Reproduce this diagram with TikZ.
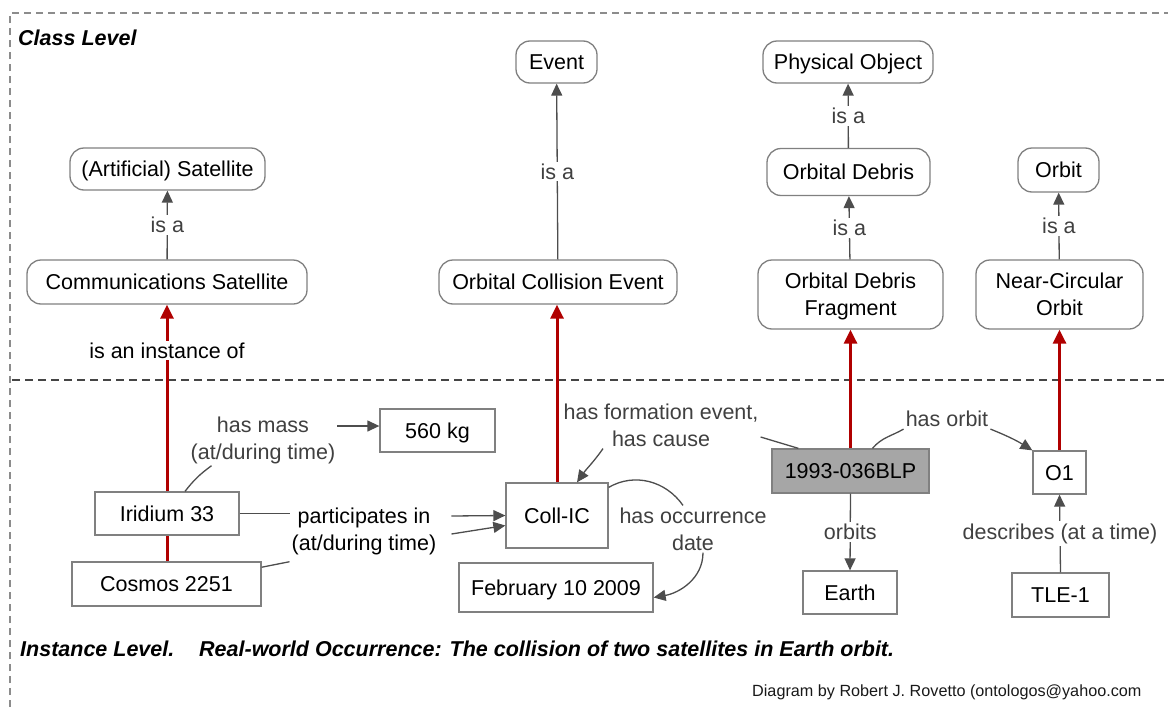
\documentclass[tikz,border=0pt]{standalone}
\usepackage{fontspec}
\setmainfont{Liberation Sans}
\usetikzlibrary{arrows.meta}
\definecolor{nodegray}{HTML}{808080}
\definecolor{edgegray}{HTML}{4D4D4D}
\definecolor{labelgray}{HTML}{404040}
\definecolor{myred}{HTML}{B00000}
\definecolor{blfill}{HTML}{A6A6A6}
\definecolor{framegray}{HTML}{8C8C8C}
\definecolor{sepgray}{HTML}{454545}
\tikzset{
  onel/.style={text height=15pt, text depth=0pt},
  twol/.style={text height=42pt, text depth=0pt},
  cls/.style={draw=nodegray, line width=1.3pt, rounded corners=14pt, fill=white, align=center, inner sep=0pt},
  inst/.style={draw=nodegray, line width=1.3pt, fill=white, align=center, inner sep=0pt, onel},
  lbl/.style={text=labelgray, fill=white, inner sep=2pt, align=center},
  conn/.style={draw=edgegray, line width=1.3pt},
  arr/.style={conn, -{Triangle[length=12pt,width=11pt]}},
  redline/.style={draw=myred, line width=3pt},
  redarr/.style={redline, -{Triangle[length=14pt,width=13pt]}},
  title/.style={anchor=base west, inner sep=0pt, font=\bfseries\itshape\fontsize{21.5}{27}\selectfont},
}
\begin{document}
\begin{tikzpicture}[x=1pt, y=-1pt, font=\fontsize{21.5}{27}\selectfont]
\useasboundingbox (0,0) rectangle (1168,707);
% frame and separator
\draw[framegray, line width=1.2pt, dash pattern=on 7pt off 5pt] (10,707) -- (10,13) -- (1168,13);
\draw[sepgray, line width=2.5pt, dash pattern=on 8pt off 5pt] (12,380) -- (1168,380);

% class level nodes
\node[cls, onel, minimum width=195pt, minimum height=42pt] (art) at (167.5,169) {(Artificial) Satellite};
\node[cls, onel, minimum width=280pt, minimum height=44pt] (comm) at (167,282) {Communications Satellite};
\node[cls, onel, minimum width=81pt, minimum height=42pt] (event) at (556.5,62) {Event};
\node[cls, onel, minimum width=238pt, minimum height=44pt] (oce) at (558,282) {Orbital Collision Event};
\node[cls, onel, minimum width=170pt, minimum height=42pt] (po) at (848,62) {Physical Object};
\node[cls, onel, minimum width=163pt, minimum height=47pt] (od) at (848.5,172) {Orbital Debris};
\node[cls, twol, minimum width=185pt, minimum height=69pt] (odf) at (850.5,294.5) {Orbital Debris\\Fragment};
\node[cls, onel, minimum width=81pt, minimum height=44pt] (orbit) at (1058.5,170) {Orbit};
\node[cls, twol, minimum width=167pt, minimum height=69pt] (nco) at (1059.5,294.5) {Near-Circular\\Orbit};

% instance level nodes
\node[inst, minimum width=144pt, minimum height=43pt] (iri) at (167,513.5) {Iridium 33};
\node[inst, minimum width=189pt, minimum height=44pt] (cos) at (166.5,584) {Cosmos 2251};
\node[inst, minimum width=115pt, minimum height=43pt] (kg) at (437.5,430.5) {560 kg};
\node[inst, minimum width=102pt, minimum height=65pt] (coll) at (557,515.5) {Coll-IC};
\node[inst, minimum width=194pt, minimum height=49pt] (feb) at (556,587.5) {February 10 2009};
\node[inst, fill=blfill, minimum width=157pt, minimum height=44pt] (bl) at (850.5,471) {1993-036BLP};
\node[inst, minimum width=53pt, minimum height=43pt] (o1) at (1059.5,472.5) {O1};
\node[inst, minimum width=94pt, minimum height=43pt] (earth) at (850,592.5) {Earth};
\node[inst, minimum width=97pt, minimum height=44pt] (tle) at (1060.5,595) {TLE-1};

% free-standing link labels
\node[lbl] (lmass) at (263,440) {has mass\\(at/during time)};
\node[lbl, text=black] (lpart) at (364,531) {participates in\\(at/during time)};
\node[lbl] (lform) at (661,425) {has formation event,\\has cause};
\node[lbl] (locc) at (693,529) {has occurrence\\date};
\node[lbl] (lorbit) at (947,419) {has orbit};

% is-a links
\draw[arr] (comm) -- node[lbl]{is a} (art);
\draw[arr] (oce) -- node[lbl]{is a} (event);
\draw[arr] (od) -- node[lbl]{is a} (po);
\draw[arr] (odf) -- node[lbl]{is a} (od);
\draw[arr] (nco) -- node[lbl]{is a} (orbit);

% instance-of links
\draw[redline] (iri.south |- cos.north) -- (iri.south);
\draw[redarr] (iri.north) -- node[lbl, text=black, pos=0.755]{is an instance of} (comm.south);
\draw[redarr] (coll.north) -- (coll.north |- oce.south);
\draw[redarr] (bl.north) -- (bl.north |- odf.south);
\draw[redarr] (o1.north) -- (o1.north |- nco.south);

% has mass
\draw[conn] ([xshift=18pt]iri.north) to[bend left=8] ([xshift=23pt]lmass.south west);
\coordinate (kgin) at ([yshift=4.5pt]kg.west);
\draw[arr] (kgin -| lmass.east) -- (kgin);

% participates in
\draw[conn] (iri.east) -- (iri.east -| lpart.west);
\draw[conn] (cos.10) -- ([yshift=-5pt]lpart.south west);
\draw[arr] ([shift={(13pt,15pt)}]lpart.east) -- (coll.west);
\draw[arr] ([shift={(13pt,-3pt)}]lpart.east) -- ([yshift=-10pt]coll.west);

% has formation event
\draw[arr] ([xshift=-58pt]lform.south) to[out=-125, in=55] ([xshift=20pt]coll.north);
\draw[conn] ([xshift=27pt]bl.north west) -- ([yshift=-12pt]lform.east);

% has occurrence date
\draw[conn] ([yshift=-5pt]coll.north east) to[out=30, in=125] ([xshift=-10pt]locc.north);
\draw[arr] ([xshift=10pt]locc.south) to[out=-90, in=10] ([yshift=-10pt]feb.east);

% has orbit
\draw[conn] ([xshift=22pt]bl.north) to[out=50, in=210] (lorbit.south west);
\draw[arr] (lorbit.south east) to[bend left=5] (o1.north west);

% orbits, describes
\draw[arr] (bl.south) -- node[lbl]{orbits} (earth.north);
\draw[arr] (tle.north) -- node[lbl]{describes (at a time)} (o1.south);

% titles
\node[title] (cl) at (18,45) {Class Level};
\node[title] (il) at (20,656) {Instance Level.};
\node[title] (rw) at (199,656) {Real-world Occurrence: The collision of two satellites in Earth orbit.};
\node[anchor=base west, inner sep=0pt, text=black!90, font=\fontsize{16.2}{19}\selectfont] (by) at (752,696) {Diagram by Robert J. Rovetto (ontologos@yahoo.com};
\end{tikzpicture}
\end{document}
